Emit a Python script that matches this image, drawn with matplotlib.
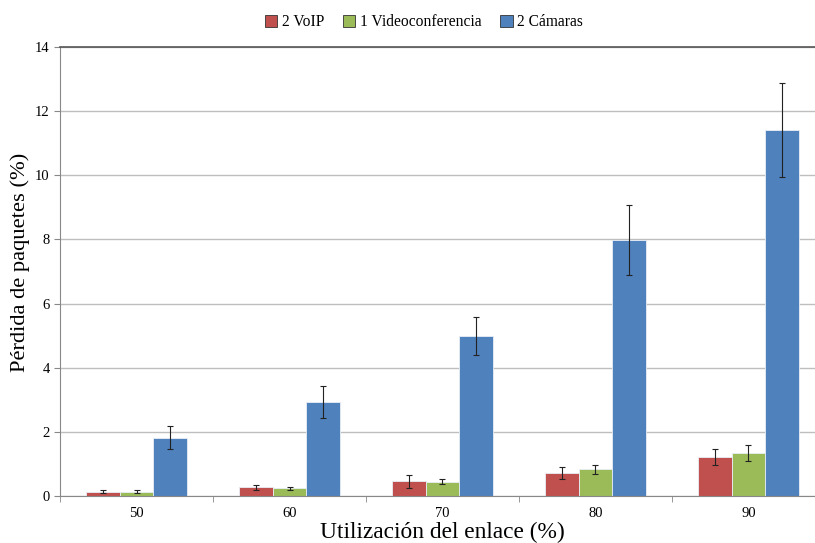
import matplotlib
matplotlib.use("Agg")
import matplotlib.pyplot as plt
import numpy as np

categories = ["50", "60", "70", "80", "90"]
series_names = ["2 VoIP", "1 Videoconferencia", "2 Cámaras"]
voip = [0.13, 0.27, 0.46, 0.71, 1.21]
voip_err = [0.05, 0.08, 0.20, 0.18, 0.25]
video = [0.14, 0.24, 0.45, 0.83, 1.33]
video_err = [0.04, 0.04, 0.07, 0.14, 0.25]
cams = [1.82, 2.93, 4.99, 7.98, 11.42]
cams_err = [0.35, 0.50, 0.60, 1.10, 1.47]
colors = ["#C0504D", "#9BBB59", "#4F81BD"]

plt.rcParams['font.family'] = ['Liberation Serif', 'DejaVu Serif']

fig = plt.figure(figsize=(8.15, 5.43), dpi=100)
ax = fig.add_axes([60/815, 47/543, 765/815, 449/543])

x = np.arange(len(categories))
w = 0.222
for i, (vals, errs) in enumerate([(voip, voip_err), (video, video_err), (cams, cams_err)]):
    ax.bar(x + (i - 1) * w, vals, w, color=colors[i], edgecolor="#E8EEF6", linewidth=0.6,
           label=series_names[i], zorder=2,
           yerr=errs, error_kw=dict(ecolor="#222222", elinewidth=0.8, capsize=2.5, capthick=0.8, zorder=3))

ax.set_xlim(-0.5, len(categories) - 0.5)
ax.set_ylim(0, 14)
ax.set_yticks(np.arange(0, 15, 2))
ax.yaxis.grid(True, color="#BEBEBE", linewidth=1.0, zorder=0)
ax.set_axisbelow(True)
ax.set_xticks(x)
ax.set_xticklabels(categories, fontsize=10.5)
ax.set_xticks(np.arange(-0.5, len(categories)), minor=True)
ax.tick_params(axis='x', which='major', length=0, pad=8)
ax.tick_params(axis='x', which='minor', length=4, color="#888888", direction='out')
ax.tick_params(axis='y', labelsize=10.5, length=4, color="#888888", direction='out')
ax.spines["right"].set_visible(False)
ax.spines["top"].set_color("#555555")
ax.spines["top"].set_linewidth(1.2)
for s in ["left", "bottom"]:
    ax.spines[s].set_color("#888888")

ax.set_xlabel("Utilización del enlace (%)", fontsize=16.8, labelpad=1.5)
ax.set_ylabel("Pérdida de paquetes (%)", fontsize=16.2)
ax.yaxis.set_label_coords(-0.039, 0.521)

leg = fig.legend(loc="upper center", bbox_to_anchor=(424/815, 1.0), ncol=3, frameon=False,
                 fontsize=11.2, handlelength=0.8, handleheight=0.8, handletextpad=0.3, columnspacing=1.2)
for h in leg.legend_handles:
    h.set_edgecolor("#333333")
    h.set_linewidth(0.6)

fig.savefig("out.png", dpi=100)
